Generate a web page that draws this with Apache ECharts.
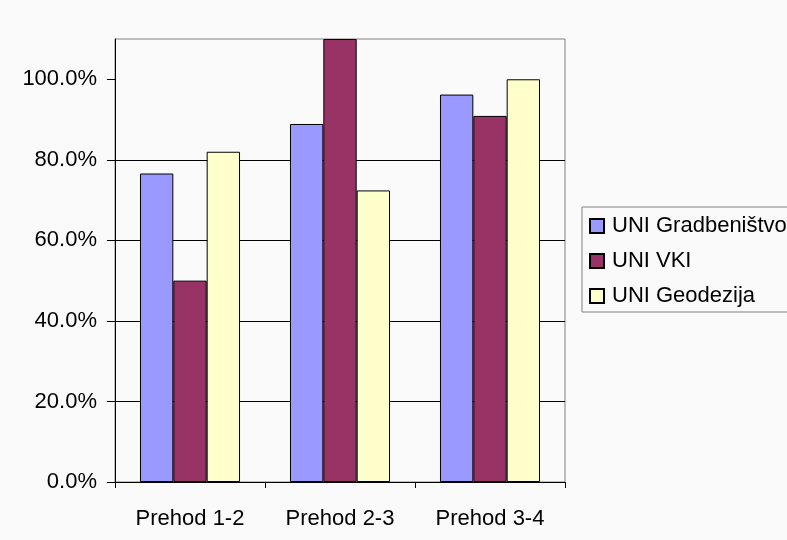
<!DOCTYPE html>
<html>
<head>
<meta charset="utf-8">
<script src="https://cdn.jsdelivr.net/npm/echarts@6/dist/echarts.min.js"></script>
<style>
html,body{margin:0;padding:0;background:#fafafa;}
#c{width:787px;height:540px;}
</style>
</head>
<body>
<div id="c"></div>
<script>
var categories = ['Prehod 1-2', 'Prehod 2-3', 'Prehod 3-4'];
var seriesNames = ['UNI Gradbeništvo', 'UNI VKI', 'UNI Geodezija'];
var gradbenistvo = [76.6, 88.9, 96.2];
var vki = [50.0, 110.0, 90.9];
var geodezija = [82.0, 72.4, 100.0];
var yTicks = [0, 20, 40, 60, 80, 100];

var colors = ['#9999ff', '#993366', '#ffffcc'];
var dataSets = [gradbenistvo, vki, geodezija];
var font = 'Liberation Sans, Arial, sans-serif';

var chart = echarts.init(document.getElementById('c'), null, {renderer: 'canvas'});
chart.setOption({
  backgroundColor: '#fafafa',
  animation: false,
  grid: {left: 115, right: 222, top: 39, bottom: 58, show: true, borderColor: '#808080', borderWidth: 1, backgroundColor: 'transparent', containLabel: false},
  legend: {
    orient: 'vertical', left: 582, top: 207,
    padding: [8, 10, 5, 7],
    itemWidth: 14, itemHeight: 14, itemGap: 13,
    icon: 'rect',
    borderColor: '#808080', borderWidth: 1,
    backgroundColor: '#fafafa',
    textStyle: {fontFamily: font, fontSize: 22, color: '#000', padding: [0, 0, 0, 3]},
    data: seriesNames
  },
  xAxis: {
    type: 'category', data: categories,
    axisLine: {lineStyle: {color: '#000', width: 1}},
    axisTick: {show: true, length: 6, lineStyle: {color: '#000'}},
    axisLabel: {fontFamily: font, fontSize: 22, color: '#000', margin: 26}
  },
  yAxis: {
    type: 'value', min: 0, max: 110, interval: 20,
    axisLine: {show: true, lineStyle: {color: '#000', width: 1}},
    axisTick: {show: true, length: 8, lineStyle: {color: '#000'}, customValues: yTicks},
    axisLabel: {fontFamily: font, fontSize: 22, color: '#000', margin: 18, customValues: yTicks,
      formatter: function (v) { return v.toFixed(1) + '%'; }},
    splitLine: {show: true, showMaxLine: false, lineStyle: {color: '#000', width: 1}}
  },
  series: dataSets.map(function (d, i) {
    return {
      name: seriesNames[i], type: 'bar', data: d,
      barGap: '0%', barCategoryGap: '33.3%',
      itemStyle: {color: colors[i], borderColor: '#000', borderWidth: 1}
    };
  })
});
</script>
</body>
</html>
